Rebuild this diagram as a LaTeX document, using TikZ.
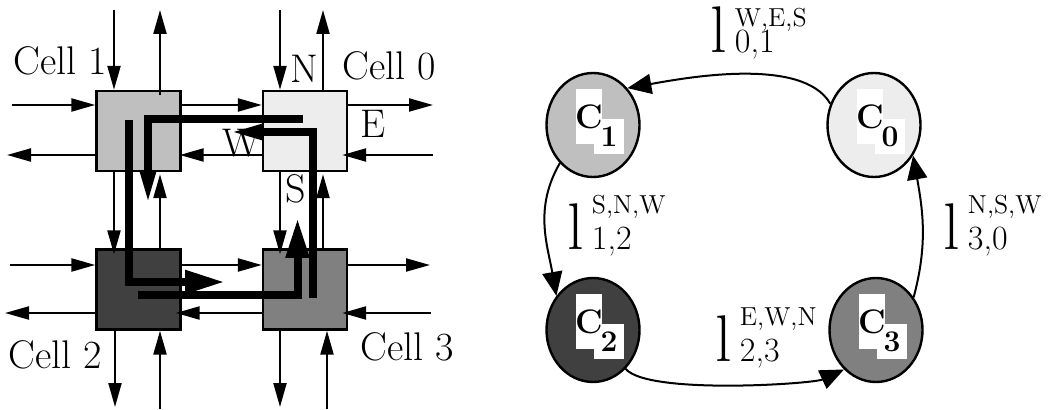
\documentclass[tikz,border=0pt]{standalone}
\usetikzlibrary{arrows.meta, positioning, calc, shapes.geometric}
\definecolor{cellzero}{gray}{0.93}
\definecolor{cellone}{gray}{0.75}
\definecolor{celltwo}{gray}{0.25}
\definecolor{cellthree}{gray}{0.5}
% link label: big l with stacked direction set and cell pair
\newcommand{\lnk}[3][18pt]{{\fontsize{33}{33}\selectfont l}\kern4pt\rlap{\raisebox{#1}{\fontsize{13}{13}\selectfont #2}}{\fontsize{17}{17}\selectfont #3}}

\begin{document}
\begin{tikzpicture}[x=0.5pt, y=0.5pt,
  cellbox/.style={draw, line width=1.2pt, minimum width=42pt, minimum height=40pt, inner sep=0},
  link/.style={line width=1.1pt, -{Triangle[length=12pt, width=6.5pt]}},
  route/.style={line width=4pt, -{Triangle[length=18pt, width=7pt]}},
  bigroute/.style={line width=4pt, -{Triangle[length=20pt, width=11pt]}},
  lbl/.style={font=\fontsize{20}{20}\selectfont, inner sep=0, anchor=base west},
  core/.style={ellipse, draw, line width=1.2pt, minimum width=46.5pt, minimum height=52pt, inner sep=0},
  arc/.style={line width=1pt, -{Triangle[length=12pt, width=10pt]}},
  cbox/.style={fill=white, inner sep=0, minimum width=13pt, minimum height=27.5pt},
  dbox/.style={fill=white, inner sep=0, minimum width=15pt, minimum height=17.5pt},
  ctext/.style={inner sep=0, font=\fontsize{17}{17}\selectfont\bfseries},
  dtext/.style={inner sep=0, font=\fontsize{15}{15}\selectfont\bfseries}]
  \useasboundingbox (0,0) rectangle (1052,-410);

  % Cells of the mesh
  \node[cellbox, fill=cellone] (c1) at (138.5,-131) {};
  \node[cellbox, fill=cellzero] (c0) at (305,-131) {};
  \node[cellbox, fill=celltwo] (c2) at (138.5,-289.5) {};
  \node[cellbox, fill=cellthree] (c3) at (305,-289.5) {};

  % Free ends of the links
  \coordinate (n1in) at (114,-10);  \coordinate (n1out) at (160,-10);
  \coordinate (n0in) at (280,-10);  \coordinate (n0out) at (323,-10);
  \coordinate (s2out) at (115,-407); \coordinate (s2in) at (160,-409);
  \coordinate (s3out) at (280,-407); \coordinate (s3in) at (327,-409);
  \coordinate (w1in) at (12,-105);  \coordinate (w1out) at (7,-155);
  \coordinate (w2in) at (10,-265);  \coordinate (w2out) at (5,-313);
  \coordinate (e0out) at (433,-105); \coordinate (e0in) at (433,-155);
  \coordinate (e3out) at (430,-265); \coordinate (e3in) at (431,-313);

  % Vertical links
  \draw[link] (n1in) -- (n1in |- c1.north);
  \draw[link] ([yshift=-2.5pt]n1out |- c1.north) -- (n1out);
  \draw[link] (n0in) -- (n0in |- c0.north);
  \draw[link] (n0out |- c0.north) -- (n0out);
  \draw[link] (n1in |- c1.south) -- ([yshift=-3pt]n1in |- c2.north);
  \draw[link] (n1out |- c2.north) -- ([yshift=-1pt]n1out |- c1.south);
  \draw[link] (n0in |- c0.south) -- ([yshift=-3pt]n0in |- c3.north);
  \draw[link] (n0out |- c3.north) -- ([yshift=-1pt]n0out |- c0.south);
  \draw[link] (s2out |- c2.south) -- (s2out);
  \draw[link] (s2in) -- (s2in |- c2.south);
  \draw[link] (s3out |- c3.south) -- (s3out);
  \draw[link] (s3in) -- (s3in |- c3.south);

  % Horizontal links
  \draw[link] (w1in) -- (w1in -| c1.west);
  \draw[link] (w1out -| c1.west) -- (w1out);
  \draw[link] (w1in -| c1.east) -- (w1in -| c0.west);
  \draw[link] (w1out -| c0.west) -- ([xshift=-1pt]w1out -| c1.east);
  \draw[link] (e0out -| c0.east) -- (e0out);
  \draw[link] (e0in) -- ([xshift=-3pt]e0in -| c0.east);
  \draw[link] (w2in) -- (w2in -| c2.west);
  \draw[link] (w2out -| c2.west) -- (w2out);
  \draw[link] (w2in -| c2.east) -- (w2in -| c3.west);
  \draw[link] (w2out -| c3.west) -- ([xshift=-3pt]w2out -| c2.east);
  \draw[link] (e3out -| c3.east) -- (e3out);
  \draw[link] (e3in) -- ([xshift=-3pt]e3in -| c3.east);

  % Labels of the mesh
  \node[lbl] (lcell1) at (13,-75) {Cell 1};
  \node[lbl] (lcell0) at (342,-80) {Cell 0};
  \node[lbl] (lcell2) at (8,-368) {Cell 2};
  \node[lbl] (lcell3) at (360,-360) {Cell 3};
  \node[lbl] (lnorth) at (290,-83) {N};
  \node[lbl] (least) at (360,-138) {E};
  \node[lbl] (lwest) at (222,-157) {W};
  \node[lbl] (lsouth) at (285,-203) {S};

  % Routes through the ring
  \draw[route] (303,-119) -- (148,-119) -- (148,-207);
  \draw[bigroute] (128.5,-120) -- (128.5,-282) -- (225,-282);
  \draw[route] (312.5,-298) -- (312.5,-132) -- (227,-132);
  \draw[bigroute] (138,-295.5) -- (297.5,-295.5) -- (297.5,-218);

  % Ring of cores
  \node[core, fill=cellone] (k1) at (593,-125) {};
  \node[core, fill=cellzero] (k0) at (874,-125) {};
  \node[core, fill=celltwo] (k2) at (593,-330) {};
  \node[core, fill=cellthree] (k3) at (876,-330) {};

  \node[cbox] (k1c) at ($(k1)+(-4,8)$) {};
  \node[dbox] (k1d) at ($(k1)+(16,-12)$) {};
  \node[cbox] (k0c) at ($(k0)+(-4,8)$) {};
  \node[dbox] (k0d) at ($(k0)+(16,-12)$) {};
  \node[cbox] (k2c) at ($(k2)+(-4,8)$) {};
  \node[dbox] (k2d) at ($(k2)+(16,-12)$) {};
  \node[cbox] (k3c) at ($(k3)+(-4,8)$) {};
  \node[dbox] (k3d) at ($(k3)+(16,-12)$) {};
  \node[ctext] (t1c) at (k1c) {C};
  \node[dtext] (t1d) at (k1d) {1};
  \node[ctext] (t0c) at (k0c) {C};
  \node[dtext] (t0d) at (k0d) {0};
  \node[ctext] (t2c) at (k2c) {C};
  \node[dtext] (t2d) at (k2d) {2};
  \node[ctext] (t3c) at (k3c) {C};
  \node[dtext] (t3d) at (k3d) {3};

  \draw[arc] (k0.154) to[out=120, in=10, looseness=0.7] (k1.47);
  \draw[arc] (k1.229) to[out=240, in=100] (k2.137);
  \draw[arc] (k2.310) to[out=-50, in=205, looseness=0.4] (k3.231);
  \draw[arc] (k3.41) to[out=75, in=-80] (k0.322);

  % Link labels
  \node[inner sep=0, anchor=base west] (l01) at (710,-53) {\lnk[13pt]{W,E,S}{0,1}};
  \node[inner sep=0, anchor=base west] (l12) at (567,-250) {\lnk{S,N,W}{1,2}};
  \node[inner sep=0, anchor=base west] (l30) at (943,-250) {\lnk{N,S,W}{3,0}};
  \node[inner sep=0, anchor=base west] (l23) at (715,-362) {\lnk{E,W,N}{2,3}};
\end{tikzpicture}
\end{document}
